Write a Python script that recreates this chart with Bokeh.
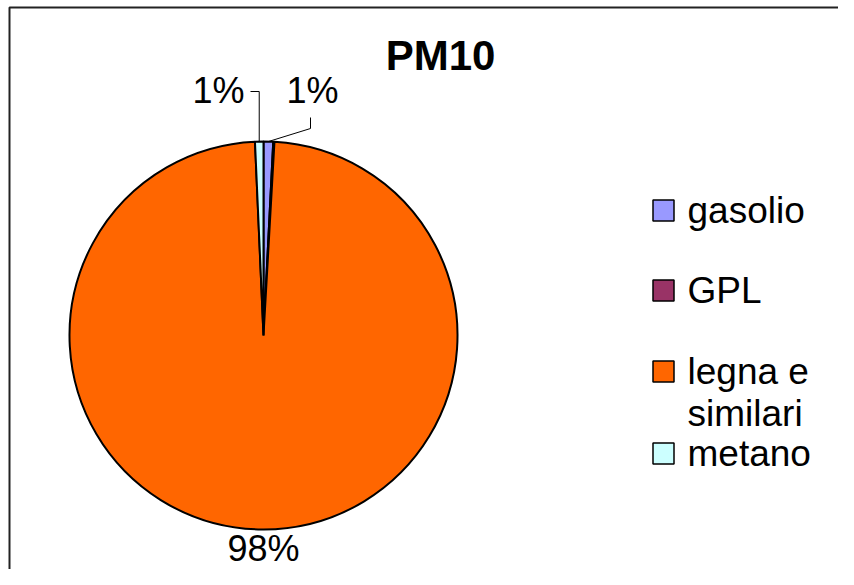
import numpy as np
from bokeh.plotting import figure
from bokeh.models import Range1d
from bokeh.core.properties import value
from bokeh.embed import file_html
from bokeh.resources import INLINE

# ---- data ----
categories = ["gasolio", "GPL", "legna e\nsimilari", "metano"]
shares = [0.8, 0.1, 98.4, 0.7]
colors = ["#9999FF", "#993366", "#FF6600", "#CCFFFF"]
title_text = "PM10"

FONT = "Liberation Sans"
W, H = 838, 569
p = figure(width=W, height=H, output_backend="svg", toolbar_location=None,
           x_range=Range1d(0, W), y_range=Range1d(-H, 0),
           min_border=0)
p.axis.visible = False
p.grid.visible = False
p.outline_line_color = None
p.background_fill_color = "white"

# frame border (only left/top visible in the window)
p.line(x=[9, 9, 900], y=[-700, -7, -7], line_color="#222222", line_width=2)

# pie
cx, cy, r = 263, -335, 194
vals = np.array(shares, dtype=float)
frac = vals / vals.sum()
cum = np.concatenate([[0], np.cumsum(frac)])
start = np.pi / 2 - cum[:-1] * 2 * np.pi
end = np.pi / 2 - cum[1:] * 2 * np.pi
p.wedge(x=cx, y=cy, radius=r, start_angle=start, end_angle=end,
        direction="clock", fill_color=colors, line_color="black", line_width=2)
mid = (start + end) / 2
pct = [f"{round(f * 100):.0f}%" for f in frac]

# labels with leader lines
ex = cx + r * np.cos(mid)
ey = cy + r * np.sin(mid)
p.line(x=[250, ex[3], ex[3]], y=[-91, -91, ey[3]], line_color="black", line_width=1)
p.line(x=[310, 310, ex[0]], y=[-117, -128, ey[0]], line_color="black", line_width=1)
p.text(x=[218, 312, cx], y=[-90, -90, -548], text=[pct[3], pct[0], pct[2]],
       text_font=value(FONT), text_font_size="36px", text_align="center",
       text_baseline="middle", text_color="black")

# title
p.text(x=[440], y=[-55], text=[title_text], text_font=value(FONT),
       text_font_size="42px", text_font_style="bold", text_align="center",
       text_baseline="middle", text_color="black")

# legend
sq_cy = [-210, -290, -371, -453]
p.rect(x=[663] * 4, y=sq_cy, width=21, height=21, fill_color=colors,
       line_color="black", line_width=1.5)
lines_x, lines_y, lines_t = [], [], []
for c, yc in zip(categories, sq_cy):
    for k, part in enumerate(c.split("\n")):
        lines_x.append(687)
        lines_y.append(yc - 42 * k)
        lines_t.append(part)
p.text(x=lines_x, y=lines_y, text=lines_t, text_font=value(FONT),
       text_font_size="37px", text_align="left", text_baseline="middle",
       text_color="black")

open("out.html", "w").write(file_html(p, INLINE))
